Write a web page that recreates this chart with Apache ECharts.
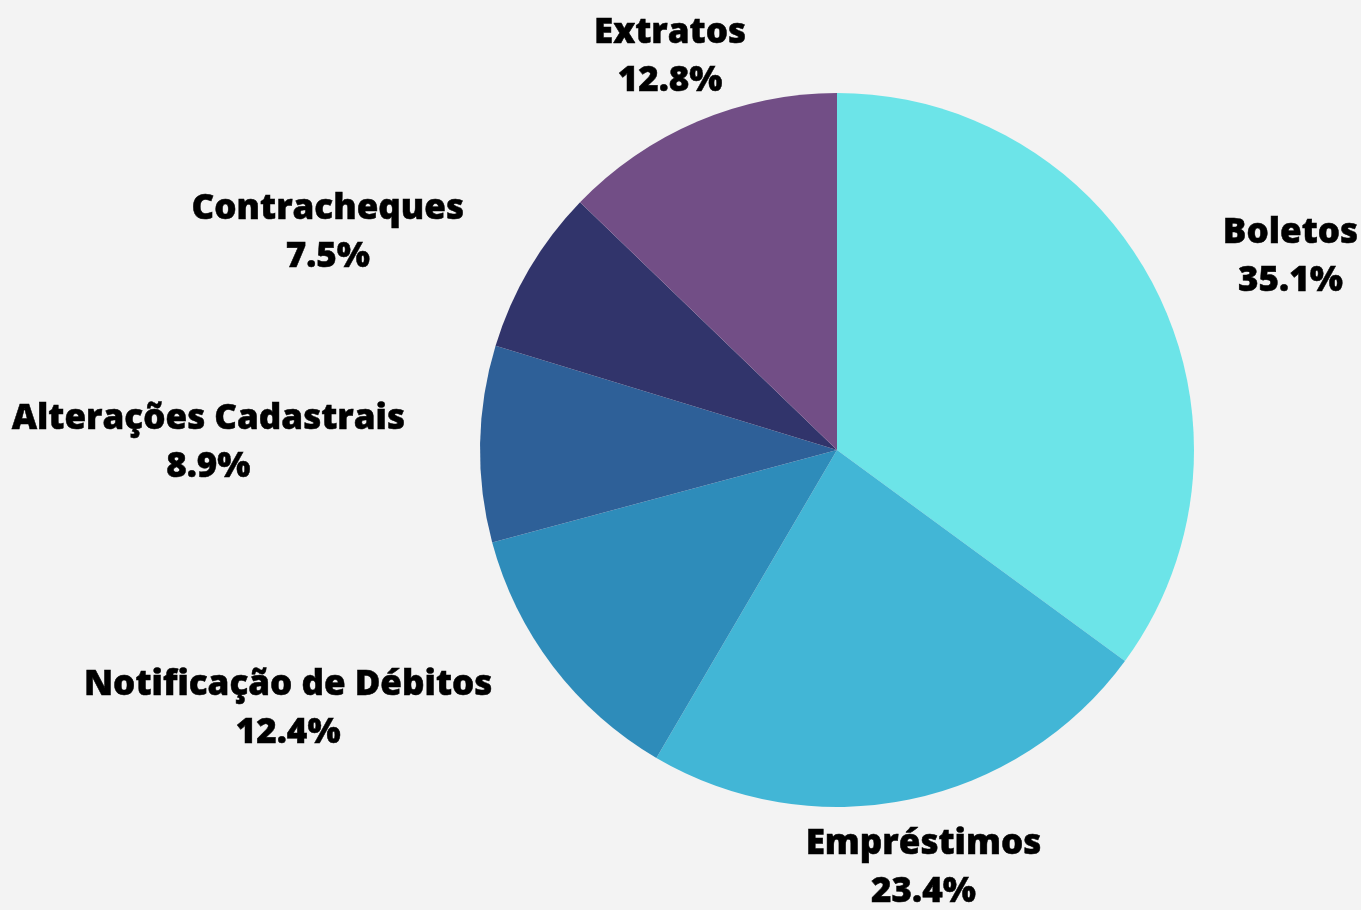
<!DOCTYPE html>
<html>
<head>
<meta charset="utf-8">
<script src="https://cdn.jsdelivr.net/npm/echarts@6/dist/echarts.min.js"></script>
<style>
html,body{margin:0;padding:0;background:#f3f3f3;}
#c{width:1361px;height:910px;}
</style>
</head>
<body>
<div id="c"></div>
<script>
var categories = ['Boletos', 'Empréstimos', 'Notificação de Débitos', 'Alterações Cadastrais', 'Contracheques', 'Extratos'];
var values = [35.1, 23.4, 12.4, 8.9, 7.5, 12.8];
var colors = ['#6ce4e8', '#42b6d6', '#2e8cba', '#2e6098', '#31346b', '#724e86'];

var chart = echarts.init(document.getElementById('c'));
var txt = { align: 'center', color: '#000', fontFamily: 'Open Sans', fontWeight: 800, fontSize: 35, lineHeight: 48, textBorderColor: '#000', textBorderWidth: 0.5 };
chart.setOption({
  backgroundColor: '#f3f3f3',
  animation: false,
  series: [{
    type: 'pie',
    center: [837, 450],
    radius: [0, 357],
    startAngle: 90,
    clockwise: true,
    avoidLabelOverlap: false,
    data: categories.map(function (c, i) {
      return { name: c, value: values[i], itemStyle: { color: colors[i] } };
    }),
    label: {
      show: true,
      position: 'outside',
      formatter: function (p) { return '{a|' + p.name + '}\n{a|' + p.value.toFixed(1) + '%}'; },
      color: '#000',
      fontFamily: 'Open Sans',
      fontWeight: 800,
      fontSize: 35,
      lineHeight: 48,
      rich: { a: txt }
    },
    labelLine: { show: true, length: 70, length2: 0, lineStyle: { opacity: 0 } },
    labelLayout: function (p) {
      var pts = p.labelLinePoints;
      if (!pts) return {};
      var dx = pts[1][0] - pts[0][0], dy = pts[1][1] - pts[0][1];
      var len = Math.sqrt(dx * dx + dy * dy) || 1;
      if (Math.abs(dx / len) < 0.5) return { x: pts[1][0], align: 'center' };
      return {};
    },
    emphasis: { disabled: true }
  }]
});
</script>
</body>
</html>
